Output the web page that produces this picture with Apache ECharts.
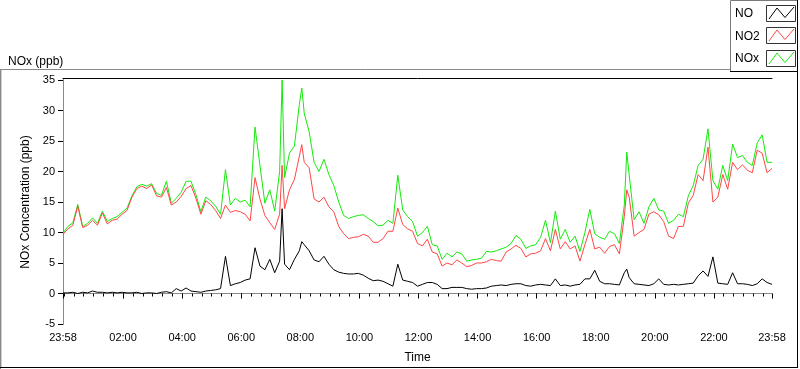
<!DOCTYPE html>
<html><head><meta charset="utf-8">
<script src="https://cdn.jsdelivr.net/npm/echarts@6/dist/echarts.min.js"></script>
<style>html,body{margin:0;padding:0;background:#fff}#c{width:800px;height:369px}</style>
</head><body><div id="c"></div>
<script>
// minutes elapsed since 23:58 (start of the record)
const minutes = [0,10,20,30,40,50,60,70,80,90,100,110,120,130,140,150,160,170,180,190,200,210,220,230,240,250,260,270,280,290,300,310,320,330,340,350,360,370,380,390,400,410,420,430,440,445,450,460,470,480,485,490,500,510,520,530,540,550,560,570,580,590,600,610,620,630,640,650,660,670,680,690,700,710,720,730,740,750,760,770,780,790,800,810,820,830,840,850,860,870,880,890,900,910,920,930,940,950,960,970,980,990,1000,1010,1020,1030,1040,1050,1060,1070,1080,1090,1100,1110,1120,1130,1140,1145,1150,1160,1170,1180,1190,1200,1210,1220,1230,1240,1250,1260,1270,1280,1290,1300,1310,1320,1330,1340,1350,1360,1370,1380,1390,1400,1410,1420,1430,1440];
const noValues = [0.1,0.1,0.2,0.0,0.2,0.1,0.4,0.2,0.2,0.1,
  0.2,0.1,0.2,0.1,0.1,0.2,0.0,0.1,0.1,0.0,
  0.2,0.3,0.1,0.8,0.4,0.9,0.4,0.3,0.2,0.4,
  0.5,0.6,0.8,6.1,1.3,1.6,1.8,2.2,2.4,7.5,
  4.5,3.9,5.6,3.4,5.3,13.9,
  4.8,3.9,5.6,7.0,8.5,
  8.0,7.0,5.5,5.2,6.1,4.8,3.9,3.5,3.3,3.2,3.2,
  3.3,3.0,2.5,2.1,2.2,2.0,1.6,1.2,4.8,2.2,
  2.0,1.8,1.2,1.5,1.8,1.8,1.5,0.8,0.8,1.0,
  1.0,1.0,0.8,0.7,0.8,0.8,0.9,1.2,1.3,1.4,
  1.3,1.5,1.6,1.6,1.3,1.2,1.4,1.5,1.4,1.3,
  2.4,1.3,1.4,1.2,1.4,1.5,2.4,2.4,3.8,2.0,
  1.6,1.6,1.5,1.4,3.4,4.0,
  2.6,1.6,1.5,1.4,1.3,
  1.6,2.4,1.5,1.4,1.5,1.4,1.5,1.6,1.7,2.9,
  3.7,2.8,6.0,1.7,1.6,1.5,3.4,1.6,1.6,1.5,
  1.3,1.6,2.4,1.8,1.5];
const no2Values = [9.7,10.6,11.2,14.3,10.8,11.2,12.0,11.2,13.2,11.4,
  12.0,12.2,13.0,13.6,15.8,17.2,17.6,17.2,17.8,16.0,
  15.8,17.4,14.5,15.0,15.9,17.2,17.7,15.6,13.0,15.2,
  14.6,13.6,12.3,14.5,13.3,13.6,13.4,13.0,11.9,19.0,
  15.5,12.8,11.6,10.5,13.0,21.0,
  13.9,17.0,18.7,22.5,24.4,
  21.5,20.6,15.5,15.0,15.8,14.2,13.4,11.0,9.8,9.0,9.2,
  9.3,9.7,9.4,8.4,8.4,9.0,10.2,10.2,14.0,11.3,
  10.6,10.2,8.2,7.8,8.9,6.8,6.5,4.5,5.0,4.7,
  5.5,5.0,4.4,4.6,5.0,5.0,5.2,5.6,5.4,5.3,
  6.8,7.3,7.9,7.4,6.0,6.5,6.6,7.0,9.0,7.0,
  10.5,7.3,8.5,7.3,7.8,5.3,8.0,10.5,7.3,7.6,
  6.6,7.7,8.0,6.5,12.6,17.0,
  15.8,9.4,10.0,10.5,13.0,
  13.4,12.9,11.8,9.4,9.0,11.0,11.0,14.8,16.1,19.5,
  18.5,24.0,15.0,15.8,19.5,17.1,21.5,20.3,21.1,20.2,
  19.8,23.5,23.0,19.8,20.5];
const noxValues = [9.9,11.0,11.6,14.6,11.0,11.5,12.4,11.5,13.5,11.8,
  12.3,12.6,13.3,14.0,16.0,17.5,17.9,17.6,18.0,16.4,
  16.1,18.4,14.8,15.6,16.6,18.4,18.4,16.2,13.4,15.8,
  15.2,14.3,13.0,20.3,14.5,15.6,15.0,15.3,14.2,27.3,
  21.0,14.8,17.0,13.5,20.0,35.0,
  19.0,23.0,24.2,31.0,33.7,
  29.5,26.5,21.5,20.0,22.0,19.5,17.7,15.0,12.8,12.3,12.6,
  12.8,12.9,12.3,11.8,11.1,11.2,12.0,11.5,19.4,13.7,
  12.6,11.8,9.4,10.0,11.0,8.0,7.8,5.6,6.6,6.0,
  6.8,6.5,5.3,5.5,5.6,5.8,6.9,6.8,7.0,7.3,
  7.6,8.2,9.5,8.9,7.4,7.8,8.0,9.2,12.0,8.3,
  13.5,8.9,10.5,8.4,9.4,6.9,10.0,13.8,9.8,9.2,
  8.9,10.2,9.8,8.2,14.5,23.2,
  19.4,12.1,13.4,11.5,14.2,
  15.6,13.7,13.5,11.5,12.0,13.0,12.6,16.0,17.7,21.0,
  22.0,27.0,18.5,17.1,21.0,18.5,24.5,22.3,22.6,21.5,
  21.0,24.7,26.0,21.5,21.5];
const seriesNames = ['NO','NO2','NOx'];
const tickMinutes = [0,122,242,362,482,602,722,842,962,1082,1202,1322,1440];
const tickLabels = ['23:58','02:00','04:00','06:00','08:00','10:00','12:00','14:00','16:00','18:00','20:00','22:00','23:58'];
const minorTicks = [];
for (let m = 2; m < 1440; m += 20) minorTicks.push(m);

const colors = {NO:'#000000', NO2:'#ff4646', NOx:'#14ea0a'};
const pairs = vals => minutes.map((m,i)=>[m, vals[i]]);
const FONT = '"Liberation Sans", Arial, sans-serif';

const chart = echarts.init(document.getElementById('c'), null, {renderer:'canvas'});

function legendGraphics(){
  const g = [];
  g.push({type:'rect', shape:{x:730.5,y:0.5,width:67,height:71}, style:{fill:'#fff', stroke:'#7a7a7a', lineWidth:1}, z:10});
  g.push({type:'line', shape:{x1:730,y1:71.5,x2:798,y2:71.5}, style:{stroke:'#000', lineWidth:1}, z:11});
  g.push({type:'line', shape:{x1:797.5,y1:0,x2:797.5,y2:72}, style:{stroke:'#000', lineWidth:1}, z:11});
  seriesNames.forEach((n,i)=>{
    const y0 = 4.5 + i*22.7;
    g.push({type:'text', x:735, y:y0+9, style:{text:n, fill:'#000', font:'12px '+FONT, verticalAlign:'middle'}, z:11});
    g.push({type:'rect', shape:{x:766.5,y:Math.round(y0)+0.5,width:29,height:16}, style:{fill:'#fff', stroke:'#333', lineWidth:1}, z:11});
    const yb = Math.round(y0);
    g.push({type:'polyline', shape:{points:[[769,yb+14],[777,yb+3],[785,yb+12.5],[794,yb+2]]}, style:{stroke:colors[n], lineWidth:1, fill:null}, z:12});
  });
  return g;
}

const option = {
  animation:false,
  backgroundColor:'#fff',
  title:{text:'NOx (ppb)', left:3, top:51, textStyle:{fontSize:12, fontWeight:'normal', color:'#000', fontFamily:FONT}},
  grid:{left:63, right:28, top:80, bottom:39, containLabel:false},
  xAxis:[
    {type:'value', min:0, max:1440, position:'bottom',
     name:'Time', nameLocation:'middle', nameGap:28, nameTextStyle:{fontSize:12, color:'#000', fontFamily:FONT},
     axisLine:{show:true, lineStyle:{color:'#8a8a8a', width:1}},
     axisTick:{show:true, length:5, inside:false, customValues:tickMinutes, lineStyle:{color:'#000'}},
     axisLabel:{show:true, customValues:tickMinutes, margin:8, fontSize:11, color:'#000', fontFamily:FONT,
       formatter:v=>{const i=tickMinutes.indexOf(v); return i>=0?tickLabels[i]:'';}},
     splitLine:{show:false}},
    {type:'value', min:0, max:1440, position:'bottom',
     axisLine:{show:false},
     axisTick:{show:true, length:3, inside:false, customValues:minorTicks, lineStyle:{color:'#000'}},
     axisLabel:{show:false}, splitLine:{show:false}},
    {type:'value', min:0, max:1440, position:'top', offset:2,
     axisLine:{show:true, lineStyle:{color:'#000', width:1}},
     axisTick:{show:false}, axisLabel:{show:false}, splitLine:{show:false}}
  ],
  yAxis:[
    {type:'value', min:-5, max:35, interval:5, position:'left',
     name:'NOx Concentration (ppb)', nameLocation:'middle', nameRotate:90, nameGap:20,
     nameTextStyle:{fontSize:12, color:'#000', fontFamily:FONT},
     axisLine:{show:true, lineStyle:{color:'#000', width:1}},
     axisTick:{show:true, length:5, inside:false, lineStyle:{color:'#000'}},
     axisLabel:{margin:8, fontSize:11, color:'#000', fontFamily:FONT},
     splitLine:{show:false}},
    {type:'value', min:-5, max:35, interval:5, position:'right',
     axisLine:{show:true, lineStyle:{color:'#8a8a8a', width:1}},
     axisTick:{show:false}, axisLabel:{show:false}, splitLine:{show:false}}
  ],
  series:[
    {name:'NOx', type:'line', data:pairs(noxValues), showSymbol:false, symbol:'none', z:2,
     lineStyle:{color:colors.NOx, width:1}, itemStyle:{color:colors.NOx}},
    {name:'NO2', type:'line', data:pairs(no2Values), showSymbol:false, symbol:'none', z:3,
     lineStyle:{color:colors.NO2, width:1}, itemStyle:{color:colors.NO2}},
    {name:'NO', type:'line', data:pairs(noValues), showSymbol:false, symbol:'none', z:4,
     lineStyle:{color:colors.NO, width:1}, itemStyle:{color:colors.NO}}
  ],
  graphic:[
    {type:'line', shape:{x1:0,y1:69.5,x2:731,y2:69.5}, style:{stroke:'#8a8a8a', lineWidth:1}},
    {type:'line', shape:{x1:0.5,y1:69,x2:0.5,y2:369}, style:{stroke:'#8a8a8a', lineWidth:1}},
    {type:'line', shape:{x1:1.5,y1:70,x2:1.5,y2:368}, style:{stroke:'#cfcfcf', lineWidth:1}},
    {type:'line', shape:{x1:0,y1:367.5,x2:798,y2:367.5}, style:{stroke:'#000', lineWidth:1}},
    {type:'line', shape:{x1:797.5,y1:72,x2:797.5,y2:368}, style:{stroke:'#000', lineWidth:1}}
  ].concat(legendGraphics())
};
chart.setOption(option);
</script>
</body></html>
